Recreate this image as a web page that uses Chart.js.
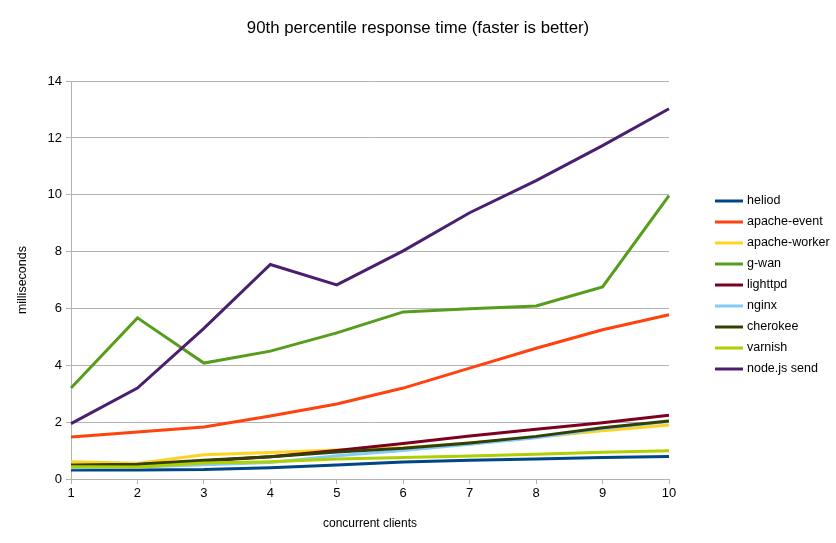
<!DOCTYPE html>
<html lang="en">
<head>
  <meta charset="UTF-8" />
  <title>90th percentile response time</title>
  <script src="https://cdn.jsdelivr.net/npm/chart.js"></script>
  <style>
    body {
      margin: 0;
      background: #ffffff;
    }
    .chart-box {
      width: 836px;
      height: 543px;
    }
  </style>
</head>
<body>
  <div class="chart-box">
    <canvas id="grafik" width="836" height="543"></canvas>
  </div>

  <script>
    // clients on the x axis
    const clients = [1, 2, 3, 4, 5, 6, 7, 8, 9, 10];

    // milliseconds per server
    const heliod       = [0.32, 0.32, 0.33, 0.40, 0.49, 0.60, 0.66, 0.70, 0.76, 0.79];
    const apacheEvent  = [1.48, 1.65, 1.83, 2.22, 2.64, 3.20, 3.90, 4.60, 5.25, 5.78];
    const apacheWorker = [0.61, 0.55, 0.85, 0.93, 1.02, 1.10, 1.27, 1.47, 1.70, 1.90];
    const gwan         = [3.20, 5.67, 4.08, 4.50, 5.14, 5.88, 5.99, 6.09, 6.76, 9.97];
    const lighttpd     = [0.46, 0.50, 0.63, 0.78, 1.00, 1.25, 1.51, 1.75, 1.98, 2.24];
    const nginx        = [0.40, 0.42, 0.50, 0.58, 0.82, 1.00, 1.22, 1.45, 1.78, 2.02];
    const cherokee     = [0.49, 0.52, 0.66, 0.78, 0.95, 1.08, 1.27, 1.50, 1.80, 2.04];
    const varnish      = [0.43, 0.42, 0.56, 0.61, 0.70, 0.76, 0.81, 0.87, 0.94, 0.99];
    const nodeSend     = [1.95, 3.20, 5.30, 7.55, 6.83, 8.03, 9.37, 10.50, 11.73, 13.03];

    const yTicks = [0, 2, 4, 6, 8, 10, 12, 14];

    const series = [
      { label: 'heliod',        data: heliod,       color: '#004586' },
      { label: 'apache-event',  data: apacheEvent,  color: '#ff420e' },
      { label: 'apache-worker', data: apacheWorker, color: '#ffd320' },
      { label: 'g-wan',         data: gwan,         color: '#579d1c' },
      { label: 'lighttpd',      data: lighttpd,     color: '#7e0021' },
      { label: 'nginx',         data: nginx,        color: '#83caff' },
      { label: 'cherokee',      data: cherokee,     color: '#314004' },
      { label: 'varnish',       data: varnish,      color: '#aecf00' },
      { label: 'node.js send',  data: nodeSend,     color: '#4b1f6f' }
    ];

    const fontFam = "'Liberation Sans', Arial, sans-serif";

    // legend drawn by hand on the right side
    const sideLegend = {
      id: 'sideLegend',
      afterDraw(chart) {
        const c = chart.ctx;
        c.save();
        c.font = '12.5px ' + fontFam;
        c.textBaseline = 'middle';
        chart.data.datasets.forEach((ds, i) => {
          const y = 201 + i * 21;
          c.strokeStyle = ds.borderColor;
          c.lineWidth = 3;
          c.beginPath();
          c.moveTo(715, y);
          c.lineTo(743, y);
          c.stroke();
          c.fillStyle = '#000';
          c.fillText(ds.label, 747, y);
        });
        c.restore();
      }
    };

    const ctx = document.getElementById('grafik').getContext('2d');
    const chart = new Chart(ctx, {
      type: 'line',
      data: {
        labels: clients,
        // later series are painted on top
        datasets: series.map((s, i) => ({
          label: s.label,
          data: s.data,
          borderColor: s.color,
          backgroundColor: s.color,
          borderWidth: 3,
          pointRadius: 0,
          tension: 0,
          fill: false,
          order: -i
        }))
      },
      options: {
        responsive: false,
        animation: false,
        layout: {
          padding: 0
        },
        scales: {
          x: {
            offset: false,
            afterFit: s => { s.height = 64; },
            grid: {
              drawOnChartArea: false,
              color: '#b3b3b3',
              tickLength: 5
            },
            border: { color: '#b3b3b3' },
            ticks: {
              color: '#000',
              font: { family: fontFam, size: 13 },
              padding: 2,
              maxRotation: 0
            },
            title: {
              display: true,
              text: 'concurrent clients',
              color: '#000',
              font: { family: fontFam, size: 12 },
              padding: { top: 12, bottom: 12 }
            }
          },
          y: {
            min: 0,
            max: 14,
            afterFit: s => { s.width = 71; },
            afterBuildTicks: s => { s.ticks = yTicks.map(v => ({ value: v })); },
            grid: {
              color: '#b3b3b3',
              tickLength: 5
            },
            border: { color: '#b3b3b3' },
            ticks: {
              color: '#000',
              font: { family: fontFam, size: 13 },
              padding: 4
            },
            title: {
              display: true,
              text: 'milliseconds',
              color: '#000',
              font: { family: fontFam, size: 12.5 },
              padding: { top: 15, bottom: 15 }
            }
          },
          // empty right axis, keeps room for the legend
          side: {
            position: 'right',
            afterFit: s => { s.width = 167; },
            grid: { display: false },
            border: { display: false },
            ticks: { display: false }
          }
        },
        plugins: {
          legend: { display: false },
          tooltip: { enabled: false },
          title: {
            display: true,
            text: '90th percentile response time (faster is better)',
            color: '#000',
            font: { family: fontFam, size: 16.8, weight: 'normal' },
            padding: { top: 18, bottom: 43 }
          }
        }
      },
      plugins: [sideLegend]
    });
  </script>
</body>
</html>
